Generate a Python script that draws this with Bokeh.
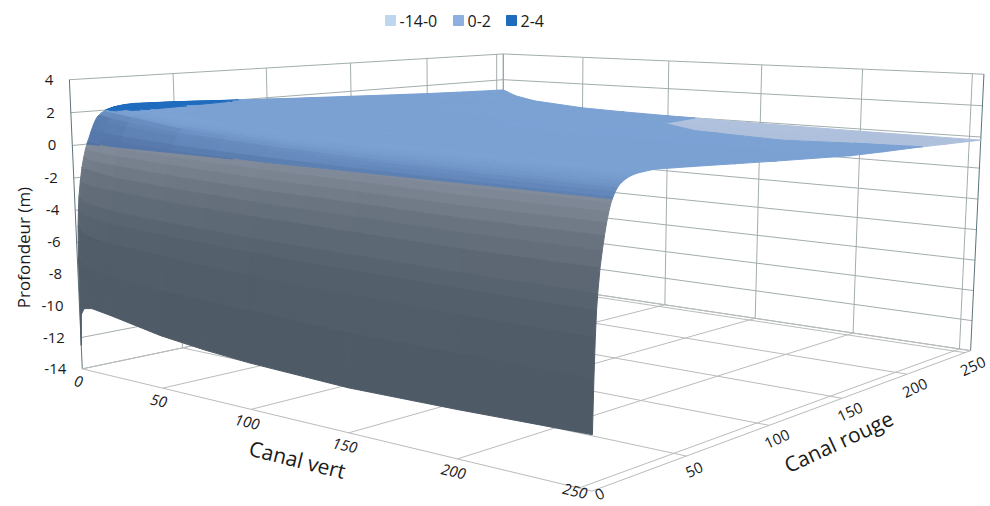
import numpy as np
from bokeh.plotting import figure
from bokeh.models import Range1d, ColumnDataSource
from bokeh.core.properties import value
from bokeh.embed import file_html
from bokeh.resources import INLINE

# ---------- data ----------
canal_vert = [0, 1, 3, 8, 20, 50, 75, 100, 125, 150, 200, 255]
canal_rouge = [0, 0.5, 1, 1.5, 2, 3, 4, 5, 6, 7, 8, 9, 10, 11, 12, 13.5, 15, 17, 20, 25, 30,
               50, 75, 100, 150, 175, 200, 225, 255]

prof_r000 = [-12.5, -10.5, -10.1, -10.0, -10.2, -10.8, -11.1, -11.3, -11.4, -11.5, -11.4, -11.2]
prof_r005 = [-7.0, -7.2, -7.5, -7.6, -7.8, -8.1, -8.2, -8.3, -8.4, -8.5, -8.5, -8.5]
prof_r010 = [-5.0, -5.2, -5.4, -5.6, -5.8, -6.0, -6.2, -6.3, -6.4, -6.4, -6.5, -6.5]
prof_r015 = [-4.0, -4.1, -4.3, -4.4, -4.6, -4.8, -4.9, -5.0, -5.1, -5.1, -5.2, -5.2]
prof_r020 = [-3.2, -3.3, -3.5, -3.6, -3.8, -4.0, -4.1, -4.2, -4.25, -4.3, -4.4, -4.4]
prof_r030 = [-2.2, -2.3, -2.4, -2.5, -2.6, -2.8, -2.9, -3.0, -3.05, -3.1, -3.2, -3.2]
prof_r040 = [-1.4, -1.5, -1.5, -1.6, -1.8, -2.0, -2.1, -2.2, -2.25, -2.3, -2.4, -2.4]
prof_r050 = [-0.8, -0.8, -0.9, -1.0, -1.1, -1.3, -1.4, -1.5, -1.55, -1.6, -1.7, -1.7]
prof_r060 = [-0.3, -0.3, -0.35, -0.45, -0.55, -0.7, -0.8, -0.9, -0.95, -1.0, -1.1, -1.1]
prof_r070 = [0.1, 0.1, 0.05, 0.0, -0.1, -0.25, -0.33, -0.4, -0.45, -0.5, -0.6, -0.6]
prof_r080 = [0.42, 0.42, 0.4, 0.35, 0.28, 0.1, 0.03, -0.05, -0.09, -0.12, -0.2, -0.2]
prof_r090 = [0.78, 0.78, 0.75, 0.7, 0.62, 0.42, 0.33, 0.25, 0.2, 0.15, 0.1, 0.07]
prof_r100 = [1.1, 1.1, 1.08, 1.0, 0.9, 0.65, 0.55, 0.45, 0.4, 0.36, 0.32, 0.3]
prof_r110 = [1.38, 1.42, 1.4, 1.3, 1.18, 0.88, 0.75, 0.65, 0.58, 0.54, 0.5, 0.47]
prof_r120 = [1.6, 1.7, 1.72, 1.6, 1.42, 1.08, 0.95, 0.82, 0.74, 0.68, 0.62, 0.6]
prof_r135 = [1.75, 1.85, 1.95, 1.88, 1.72, 1.3, 1.12, 0.98, 0.88, 0.82, 0.76, 0.73]
prof_r150 = [1.9, 1.98, 2.0, 1.93, 1.78, 1.42, 1.24, 1.08, 0.98, 0.92, 0.86, 0.83]
prof_r170 = [2.02, 2.08, 2.08, 1.97, 1.82, 1.5, 1.32, 1.16, 1.05, 1.0, 0.95, 0.93]
prof_r200 = [2.15, 2.18, 2.15, 2.0, 1.87, 1.55, 1.37, 1.22, 1.12, 1.07, 1.02, 1.02]
prof_r250 = [2.25, 2.25, 2.22, 2.03, 1.88, 1.57, 1.4, 1.25, 1.15, 1.1, 1.05, 1.07]
prof_r300 = [2.28, 2.27, 2.24, 2.03, 1.87, 1.56, 1.38, 1.24, 1.15, 1.1, 1.05, 1.1]
prof_r500 = [2.2, 2.2, 2.15, 2.0, 1.75, 1.37, 1.2, 1.06, 0.98, 0.94, 0.9, 0.95]
prof_r750 = [2.05, 2.05, 2.02, 1.85, 1.55, 1.15, 0.98, 0.86, 0.78, 0.74, 0.7, 0.75]
prof_r1000 = [1.9, 1.9, 1.87, 1.7, 1.4, 0.97, 0.8, 0.66, 0.58, 0.54, 0.5, 0.55]
prof_r1500 = [1.65, 1.6, 1.5, 1.3, 1.0, 0.6, 0.43, 0.3, 0.23, 0.2, 0.15, 0.18]
prof_r1750 = [1.52, 1.47, 1.37, 1.17, 0.87, 0.48, 0.32, 0.2, 0.13, 0.09, 0.05, 0.09]
prof_r2000 = [1.4, 1.35, 1.25, 1.05, 0.75, 0.38, 0.22, 0.11, 0.05, 0.01, -0.02, 0.02]
prof_r2250 = [1.3, 1.25, 1.15, 0.93, 0.63, 0.28, 0.14, 0.04, -0.01, -0.05, -0.09, -0.08]
prof_r2550 = [1.2, 1.15, 1.05, 0.8, 0.5, 0.2, 0.1, 0.03, -0.02, -0.08, -0.15, -0.2]

z_ticks = [-14, -12, -10, -8, -6, -4, -2, 0, 2, 4]
g_ticks = [0, 50, 100, 150, 200, 250]
r_ticks = [0, 50, 100, 150, 200, 250]
legend_labels = ["-14-0", "0-2", "2-4"]
legend_colors = ["#BDD7EE", "#8DB0E0", "#1F6CBE"]
band_limits = [(-14, 0), (0, 2), (2, 4)]

profondeur = np.array([prof_r000, prof_r005, prof_r010, prof_r015, prof_r020, prof_r030, prof_r040,
                       prof_r050, prof_r060, prof_r070, prof_r080, prof_r090, prof_r100, prof_r110,
                       prof_r120, prof_r135, prof_r150, prof_r170, prof_r200, prof_r250, prof_r300,
                       prof_r500, prof_r750, prof_r1000, prof_r1500, prof_r1750, prof_r2000,
                       prof_r2250, prof_r2550])

G_MAX, R_MAX, Z_MIN, Z_MAX = 255, 255, -14, 4

# ---------- camera: perspective fitted to the axis box ----------
world_refs = [(0,0,-14),(0,0,4),(255,255,-14),(255,255,4),(0,255,-14),(0,255,4),(255,0,-14),
              (50,0,-14),(100,0,-14),(100,255,4),(200,255,4),(0,50,4),(0,100,4),
              (255,50,-14),(255,150,-14),(255,200,-14)]
pixel_refs = [(81,368),(68,79),(972,350),(983,74),(503,281),(502,54),(593,493),
              (163,387),(251,409),(668,60),(863,69),(173,73),(267,67),
              (685,456),(838,397),(907,372)]
rows = []
for (g, r, z), (u, v) in zip(world_refs, pixel_refs):
    X = [g / 255, r / 255, z / 18, 1]
    u, v = u / 1000, v / 1000
    rows.append(X + [0, 0, 0, 0] + [-u * c for c in X])
    rows.append([0, 0, 0, 0] + X + [-v * c for c in X])
camera = np.linalg.svd(np.array(rows))[2][-1].reshape(3, 4)

def project(g, r, z):
    w = camera @ np.array([g / 255, r / 255, z / 18, 1.0])
    return float(w[0] / w[2] * 1000), float(w[1] / w[2] * 1000)

p = figure(width=990, height=506, x_range=Range1d(0, 990), y_range=Range1d(506, 0),
           output_backend="svg", toolbar_location=None, min_border=0)
p.axis.visible = False
p.grid.visible = False
p.outline_line_color = None
p.background_fill_color = "white"

def seg(a, b, color, width=1.0):
    (x0, y0), (x1, y1) = project(*a), project(*b)
    p.line([x0, x1], [y0, y1], line_color=color, line_width=width)

WALL = "#a3adae"
FLOOR = "#b9bcbc"
EDGE = "#5d7378"
all_r = r_ticks + [R_MAX]
all_g = g_ticks + [G_MAX]
for z in z_ticks:
    seg((0, 0, z), (0, R_MAX, z), WALL)
    seg((0, R_MAX, z), (G_MAX, R_MAX, z), WALL)
for r in all_r:
    seg((0, r, Z_MIN), (0, r, Z_MAX), EDGE if r in (0, R_MAX) else WALL)
    seg((0, r, Z_MIN), (G_MAX, r, Z_MIN), FLOOR)
for g in all_g:
    seg((g, R_MAX, Z_MIN), (g, R_MAX, Z_MAX), EDGE if g == G_MAX else WALL)
    seg((g, 0, Z_MIN), (g, R_MAX, Z_MIN), FLOOR)

# ---------- surface ----------
grey_z = [-14, -10, -6, -4, -2, -1, 0]
grey_r = [78, 78, 82, 90, 105, 118, 130]
grey_g = [90, 90, 94, 102, 115, 128, 140]
grey_b = [102, 102, 106, 114, 128, 140, 155]

def hexc(c):
    return "#%02x%02x%02x" % tuple(int(round(v)) for v in c)

def mix(a, b, t):
    return [a[i] + (b[i] - a[i]) * t for i in range(3)]

def band_color(idx, z, s):
    if idx == 2:
        return legend_colors[2]
    if idx == 1:
        return hexc(mix((124, 162, 212), (80, 114, 165), min(s / 0.4, 1)))
    grey = (np.interp(z, grey_z, grey_r), np.interp(z, grey_z, grey_g), np.interp(z, grey_z, grey_b))
    return hexc(mix((175, 193, 220), grey, min(s / 0.2, 1)))

def clip(poly, level, keep_above):
    out = []
    n = len(poly)
    for i in range(n):
        a, b = poly[i], poly[(i + 1) % n]
        ina = a[2] >= level if keep_above else a[2] <= level
        inb = b[2] >= level if keep_above else b[2] <= level
        if ina:
            out.append(a)
        if ina != inb:
            t = (level - a[2]) / (b[2] - a[2])
            out.append((a[0] + t * (b[0] - a[0]), a[1] + t * (b[1] - a[1]), level))
    return out

xs, ys, cols = [], [], []
for i in range(len(canal_rouge) - 2, -1, -1):
    dr = canal_rouge[i + 1] - canal_rouge[i]
    for j in range(len(canal_vert) - 1):
        corners = [(j, i), (j + 1, i), (j + 1, i + 1), (j, i + 1)]
        quad = []
        for jj, ii in corners:
            zv = float(profondeur[ii, jj])
            sx, sy = project(canal_vert[jj], canal_rouge[ii], zv)
            quad.append((sx, sy, zv))
        s = abs(profondeur[i + 1, j] + profondeur[i + 1, j + 1] - profondeur[i, j] - profondeur[i, j + 1]) / 2 / dr
        for idx, (lo, hi) in enumerate(band_limits):
            poly = clip(quad, lo, True)
            poly = clip(poly, hi, False) if poly else []
            if len(poly) < 3:
                continue
            zm = sum(q[2] for q in poly) / len(poly)
            xs.append([q[0] for q in poly])
            ys.append([q[1] for q in poly])
            cols.append(band_color(idx, zm, s))
src = ColumnDataSource(dict(xs=xs, ys=ys, c=cols))
p.patches("xs", "ys", source=src, fill_color="c", line_color="c", line_width=1)

# ---------- texts ----------
FONT = value("Open Sans")
TXT = "#1a1a1a"
zx, zy, zl = [], [], []
for z in z_ticks:
    x, y = project(0, 0, z)
    zx.append(x - 16)
    zy.append(y)
    zl.append(str(z))
p.text(zx, zy, text=zl, text_align="right", text_baseline="middle", text_font=FONT,
       text_font_size="15px", text_color=TXT)

gx, gy, gl = [], [], []
for g in g_ticks:
    x, y = project(g, 0, Z_MIN)
    gx.append(x - 4)
    gy.append(min(y + 13, 491))
    gl.append(str(g))
p.text(gx, gy, text=gl, text_align="center", text_baseline="middle", text_font=FONT, text_font_style="italic",
       text_font_size="15px", text_color=TXT, angle=-13, angle_units="deg")

rx, ry, rl = [], [], []
for r in r_ticks:
    x, y = project(G_MAX, r, Z_MIN)
    rx.append(min(x + 8, 973))
    ry.append(min(y + 14, 494))
    rl.append(str(r))
p.text(rx, ry, text=rl, text_align="center", text_baseline="middle", text_font=FONT,
       text_font_size="15px", text_color=TXT, angle=25, angle_units="deg")

p.text([23], [247], text=["Profondeur (m)"], text_align="center", text_baseline="middle", text_font=FONT,
       text_font_size="17px", text_color=TXT, angle=90, angle_units="deg")
p.text([297], [459], text=["Canal vert"], text_align="center", text_baseline="middle", text_font=FONT,
       text_font_size="21px", text_color=TXT, angle=-14, angle_units="deg")
p.text([838], [441], text=["Canal rouge"], text_align="center", text_baseline="middle", text_font=FONT,
       text_font_size="21px", text_color=TXT, angle=25, angle_units="deg")

p.scatter([390, 458, 511], [20, 20, 20], marker="square", size=10, color=legend_colors)
p.text([399, 467, 520], [20, 20, 20], text=legend_labels, text_align="left", text_baseline="middle",
       text_font=FONT, text_font_size="16px", text_color=TXT)

open("out.html", "w").write(file_html(p, INLINE))
